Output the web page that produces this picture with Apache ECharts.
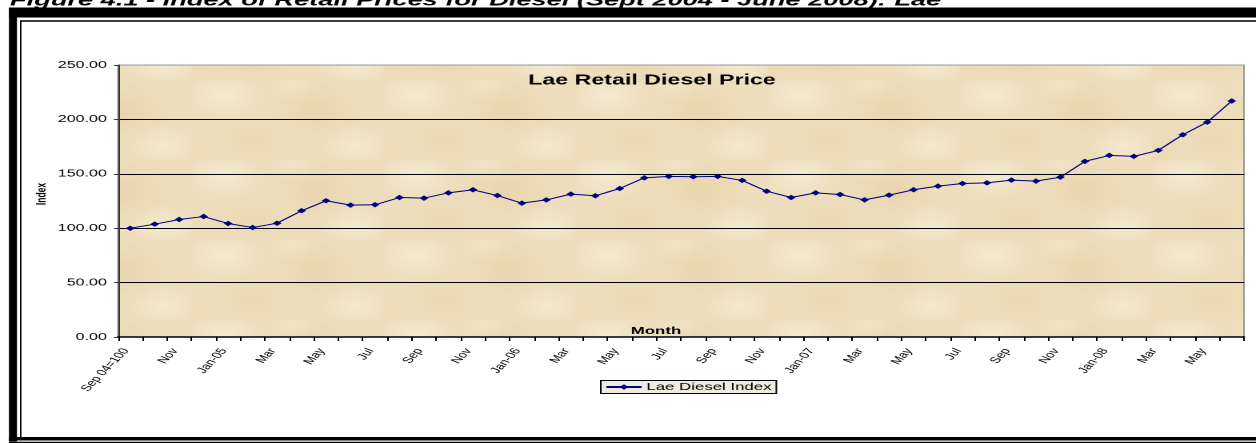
<!DOCTYPE html>
<html>
<head>
<meta charset="utf-8">
<script src="https://cdn.jsdelivr.net/npm/echarts@6/dist/echarts.min.js"></script>
<style>
  html, body { margin: 0; padding: 0; background: #fff; overflow: hidden; }
  /* the source picture is stretched sideways, so the chart is drawn narrow and widened */
  #chart { width: 785px; height: 443px; transform: scaleX(1.6); transform-origin: 0 0; }
</style>
</head>
<body>
<div id="chart"></div>
<script>
const months = ['Sep 04=100', 'Oct', 'Nov', 'Dec',
  'Jan-05', 'Feb', 'Mar', 'Apr', 'May', 'Jun', 'Jul', 'Aug', 'Sep', 'Oct', 'Nov', 'Dec',
  'Jan-06', 'Feb', 'Mar', 'Apr', 'May', 'Jun', 'Jul', 'Aug', 'Sep', 'Oct', 'Nov', 'Dec',
  'Jan-07', 'Feb', 'Mar', 'Apr', 'May', 'Jun', 'Jul', 'Aug', 'Sep', 'Oct', 'Nov', 'Dec',
  'Jan-08', 'Feb', 'Mar', 'Apr', 'May', 'Jun']

const laeDiesel = [100.0, 103.7, 108.0, 110.7, 104.3, 100.6, 104.6, 116.0, 125.2, 121.2,
  121.5, 128.2, 127.6, 132.5, 135.3, 130.0, 123.0, 126.0, 131.3, 129.8,
  136.5, 146.3, 147.6, 147.3, 147.6, 143.9, 134.0, 128.2, 132.5, 131.0,
  126.0, 130.4, 135.3, 138.7, 141.1, 141.7, 144.2, 143.3, 146.9, 161.4,
  166.9, 166.0, 171.5, 185.9, 197.5, 216.9]

const yTicks = [0, 50, 100, 150, 200, 250]

const FONT = 'Liberation Sans, Arial, sans-serif'

// parchment-like fill for the plot area
const makeTexture = () => {
  const c = document.createElement('canvas')
  c.width = 120
  c.height = 80
  const g = c.getContext('2d')
  g.fillStyle = '#EEDEBD'
  g.fillRect(0, 0, 120, 80)
  const blobs = [
    [20, 15, 24, 'rgba(248,239,217,0.75)'],
    [78, 30, 30, 'rgba(228,203,157,0.45)'],
    [102, 66, 22, 'rgba(248,239,217,0.65)'],
    [38, 60, 26, 'rgba(230,207,163,0.40)'],
    [62, 6, 15, 'rgba(244,233,206,0.55)'],
    [5, 72, 16, 'rgba(236,215,175,0.45)']
  ]
  blobs.forEach(([x, y, r, col]) => {
    const grad = g.createRadialGradient(x, y, 0, x, y, r)
    grad.addColorStop(0, col)
    grad.addColorStop(1, col.replace(/[\d.]+\)$/, '0)'))
    g.fillStyle = grad
    g.fillRect(0, 0, 120, 80)
  })
  return c
}

const chart = echarts.init(document.getElementById('chart'), null, {renderer: 'canvas', devicePixelRatio: 2})

const option = {
  animation: false,
  title: {
    text: 'Lae Retail Diesel Price',
    left: 407.5,
    top: 73,
    padding: 0,
    textAlign: 'center',
    textStyle: {fontFamily: FONT, fontSize: 14.5, fontWeight: 'bold', color: '#000'}
  },
  legend: {
    left: 375.5,
    top: 380.5,
    padding: [1, 3, 1, 2.5],
    itemWidth: 22,
    itemHeight: 7,
    itemGap: 5,
    backgroundColor: '#EEEAE0',
    borderColor: '#000',
    borderWidth: 1,
    borderRadius: 0,
    textStyle: {fontFamily: FONT, fontSize: 10.5, color: '#000', padding: [0, 0, 0, -2]}
  },
  grid: {
    left: 73.75,
    right: 7.5,
    top: 65,
    bottom: 106,
    show: true,
    backgroundColor: {image: makeTexture(), repeat: 'repeat'},
    borderColor: '#9a9a9a',
    borderWidth: 1
  },
  xAxis: {
    type: 'category',
    data: months,
    boundaryGap: true,
    axisLine: {lineStyle: {color: '#000', width: 1.5}},
    axisTick: {show: true, interval: 0, length: 4, lineStyle: {color: '#000'}},
    axisLabel: {
      interval: 1,
      rotate: 58,
      margin: 8,
      padding: [0, 5, 17, 0],
      fontFamily: FONT,
      fontSize: 9,
      color: '#000'
    },
    splitLine: {show: false}
  },
  yAxis: {
    type: 'value',
    min: yTicks[0],
    max: yTicks[yTicks.length - 1],
    interval: 50,
    axisLine: {show: true, lineStyle: {color: '#333', width: 1}},
    axisTick: {show: true, length: 2.5, lineStyle: {color: '#333'}},
    axisLabel: {
      margin: 7,
      fontFamily: FONT,
      fontSize: 10,
      color: '#000',
      formatter: v => v.toFixed(2)
    },
    splitLine: {show: true, showMinLine: false, showMaxLine: false, lineStyle: {color: '#000', width: 1}}
  },
  series: [
    {
      name: 'Lae Diesel Index',
      type: 'line',
      data: laeDiesel,
      symbol: 'diamond',
      symbolSize: 5.5,
      showAllSymbol: true,
      lineStyle: {color: '#000080', width: 1},
      itemStyle: {color: '#000080'}
    }
  ],
  graphic: [
    // figure caption, mostly cut off at the top of the page
    {
      type: 'text', x: 6.25, y: 1, z: 10,
      style: {
        text: 'Figure 4.1 - Index of Retail Prices for Diesel (Sept 2004 - June 2008): Lae',
        fontFamily: FONT, fontSize: 17, fontWeight: 'bold', fontStyle: 'italic',
        fill: '#000', verticalAlign: 'middle', align: 'left'
      }
    },
    // axis titles
    {
      type: 'text', x: 410, y: 331, z: 10,
      style: {text: 'Month', fontFamily: FONT, fontSize: 10.5, fontWeight: 'bold', fill: '#000', align: 'center', verticalAlign: 'middle'}
    },
    {
      type: 'text', x: 26, y: 194, z: 10, rotation: Math.PI / 2,
      style: {text: 'Index', fontFamily: FONT, fontSize: 8.5, fontWeight: 'bold', fill: '#000', align: 'center', verticalAlign: 'middle'}
    },
    // double frame round the figure
    {type: 'rect', z: 20, shape: {x: 5.6, y: 7.5, width: 780, height: 10}, style: {fill: '#000'}},
    {type: 'rect', z: 20, shape: {x: 5.6, y: 7.5, width: 5, height: 434}, style: {fill: '#000'}},
    {type: 'rect', z: 20, shape: {x: 12.5, y: 20.3, width: 773, height: 1.5}, style: {fill: '#000'}},
    {type: 'rect', z: 20, shape: {x: 12.5, y: 20.3, width: 0.9, height: 417}, style: {fill: '#000'}},
    {type: 'rect', z: 20, shape: {x: 5.6, y: 437, width: 780, height: 3.5}, style: {fill: '#000'}},
    {type: 'rect', z: 20, shape: {x: 5.6, y: 441.8, width: 780, height: 1.2}, style: {fill: '#000'}}
  ]
}

chart.setOption(option)
</script>
</body>
</html>
